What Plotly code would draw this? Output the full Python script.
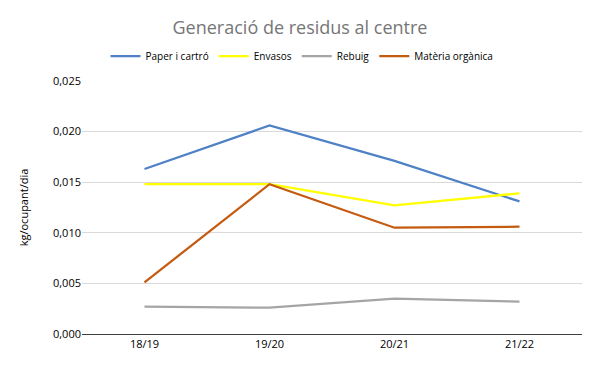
import plotly.graph_objects as go

categories = ["18/19", "19/20", "20/21", "21/22"]
paper = [0.0163, 0.0206, 0.0171, 0.0131]
envasos = [0.0148, 0.0148, 0.0127, 0.0139]
rebuig = [0.0027, 0.0026, 0.0035, 0.0032]
materia = [0.0051, 0.0148, 0.0105, 0.0106]

series = [
    ("Paper i cartró", paper, "#4F81C7"),
    ("Envasos", envasos, "#FFFF00"),
    ("Rebuig", rebuig, "#A5A5A5"),
    ("Matèria orgànica", materia, "#C55A11"),
]

fig = go.Figure()
for name, vals, color in series:
    fig.add_trace(go.Scatter(x=categories, y=vals, name=name, mode="lines",
                             line=dict(color=color, width=2.25)))

# page body has an 8px margin, so the figure is 8px smaller and offsets compensated
W, H = 592, 363
font = "Open Sans, Liberation Sans, sans-serif"
fig.update_layout(
    width=W, height=H,
    margin=dict(l=74, r=18, t=73, b=37, autoexpand=False),
    paper_bgcolor="white", plot_bgcolor="white",
    separators=",.",
    font=dict(family=font, size=11, color="#000000"),
    title=dict(text="Generació de residus al centre", xref="container",
               x=292 / W, xanchor="center", yref="container", y=1 - 20 / H,
               yanchor="middle",
               font=dict(size=18, color="#767676", family=font)),
    legend=dict(orientation="h", xref="container", x=294 / W, xanchor="center",
                yref="container", y=1 - 48 / H, yanchor="middle",
                font=dict(size=10, color="#000000"), itemwidth=30,
                bgcolor="rgba(0,0,0,0)"),
    showlegend=True,
)
fig.update_xaxes(showgrid=False, showline=True, linecolor="#404040", linewidth=1,
                 ticks="", tickfont=dict(size=11, color="#000000"),
                 range=[-0.5, 3.5])
fig.update_yaxes(range=[0, 0.025], dtick=0.005, tickformat=".3f",
                 showgrid=True, gridcolor="#D9D9D9", gridwidth=1,
                 zeroline=False, showline=False, ticks="",
                 tickfont=dict(size=11, color="#000000"),
                 title=dict(text="kg/ocupant/dia", font=dict(size=11, color="#000000"),
                            standoff=22))
fig.write_html("out.html")
